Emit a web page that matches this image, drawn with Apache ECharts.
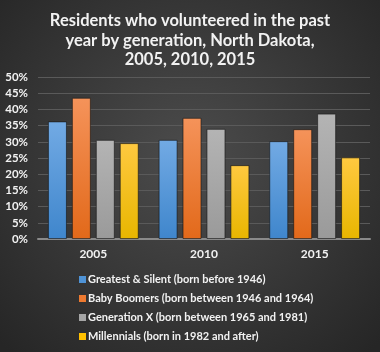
<!DOCTYPE html>
<html>
<head>
<meta charset="utf-8">
<script src="https://cdn.jsdelivr.net/npm/echarts@6/dist/echarts.min.js"></script>
<style>
  html, body { margin: 0; padding: 0; background: #333; }
  #chart { width: 380px; height: 352px; }
</style>
</head>
<body>
<div id="chart"></div>
<script>
// volunteer rates (%)
var years = ['2005', '2010', '2015'];
var greatestSilent = [36.3, 30.6, 30.2];
var babyBoomers = [43.6, 37.4, 33.9];
var generationX = [30.6, 34.0, 38.7];
var millennials = [29.6, 22.8, 25.2];
var yTicks = [0, 5, 10, 15, 20, 25, 30, 35, 40, 45, 50];

var seriesNames = [
	'Greatest & Silent (born before 1946)',
	'Baby Boomers (born between 1946 and 1964)',
	'Generation X (born between 1965 and 1981)',
	'Millennials (born in 1982 and after)'
];
var seriesData = [greatestSilent, babyBoomers, generationX, millennials];
var colorsTop = ['#72aae4', '#f5935a', '#b4b4b4', '#ffc940'];
var colorsBottom = ['#3f86cc', '#e2691a', '#9a9a9a', '#e8b600'];
var legendColors = ['#4f93d6', '#ee7a30', '#a6a6a6', '#ffc000'];

var myChart = echarts.init(document.getElementById('chart'));

function grad(i) {
	return {
		type: 'linear', x: 0, y: 0, x2: 0, y2: 1,
		colorStops: [
			{ offset: 0, color: colorsTop[i] },
			{ offset: 1, color: colorsBottom[i] }
		]
	};
}

var series = [];
for (var i = 0; i < seriesData.length; i++) {
	series.push({
		name: seriesNames[i],
		type: 'bar',
		data: seriesData[i],
		barWidth: 19,
		barGap: '26%',
		itemStyle: {
			color: grad(i),
			borderColor: 'rgba(20,20,20,0.6)',
			borderWidth: 1
		}
	});
}

var font = 'Lato, "Open Sans", sans-serif';

var chartOption = {
	backgroundColor: {
		type: 'radial', x: 0.5, y: 0.45, r: 0.75,
		colorStops: [
			{ offset: 0, color: '#4c4c4c' },
			{ offset: 1, color: '#262626' }
		]
	},
	animation: false,
	textStyle: { fontFamily: font },
	title: {
		text: 'Residents who volunteered in the past\nyear by generation, North Dakota,\n2005, 2010, 2015',
		left: 'center',
		top: 6,
		textStyle: {
			color: '#f2f2f2',
			fontSize: 16.5,
			fontWeight: 'bold',
			lineHeight: 19.5,
			fontFamily: font
		}
	},
	legend: {
		orient: 'vertical',
		left: 74,
		top: 269,
		itemWidth: 7,
		itemHeight: 7,
		itemGap: 8,
		icon: 'rect',
		data: seriesNames.map(function (n, i) {
			return { name: n, itemStyle: { color: legendColors[i], borderWidth: 0 } };
		}),
		textStyle: {
			color: '#f2f2f2',
			fontSize: 11,
			fontWeight: 'bold',
			padding: [0, 0, 0, -3],
			fontFamily: font
		}
	},
	grid: {
		left: 38,
		right: 10,
		top: 77,
		bottom: 113,
		containLabel: false
	},
	xAxis: {
		type: 'category',
		data: years,
		axisLine: { lineStyle: { color: '#8a8a8a', width: 2 } },
		axisTick: { show: false },
		axisLabel: {
			color: '#f2f2f2',
			fontSize: 12,
			fontWeight: 'bold',
			margin: 9
		}
	},
	yAxis: {
		type: 'value',
		min: yTicks[0],
		max: yTicks[yTicks.length - 1],
		interval: 5,
		axisLine: { show: false },
		axisTick: { show: false },
		splitLine: { lineStyle: { color: '#5a5a5a', width: 1 } },
		axisLabel: {
			color: '#f2f2f2',
			fontSize: 11.5,
			fontWeight: 'bold',
			margin: 10,
			formatter: '{value}%'
		}
	},
	series: series
};

myChart.setOption(chartOption);
</script>
</body>
</html>
